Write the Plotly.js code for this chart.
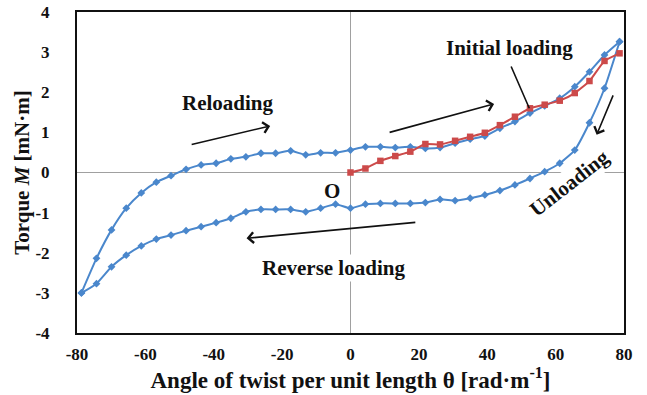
<!DOCTYPE html>
<html>
<head>
<meta charset="utf-8">
<script src="https://cdn.plot.ly/plotly-3.0.1.min.js"></script>
<style>html,body{margin:0;padding:0;background:#fff}#chart{width:647px;height:395px}</style>
</head>
<body>
<div id="chart"></div>
<script>
// Initial loading (red)
const thetaInitial = [0, 4.37, 8.74, 13.1, 17.5, 21.9, 26.2, 30.6, 35.0, 39.3, 43.7, 48.1, 52.5, 56.8, 61.2, 65.6, 69.9, 74.3, 78.7];
const torqueInitial = [0, 0.10, 0.29, 0.41, 0.52, 0.71, 0.70, 0.79, 0.89, 0.99, 1.18, 1.39, 1.60, 1.69, 1.79, 1.98, 2.28, 2.78, 2.97];

// Unloading + reverse loading (blue, lower branch) from +78.7 to -78.7
const thetaLower = [78.7, 74.3, 69.9, 65.6, 61.2, 56.8, 52.5, 48.1, 43.7, 39.3, 35.0, 30.6, 26.2, 21.9, 17.5, 13.1, 8.74, 4.37, 0,
  -4.37, -8.74, -13.1, -17.5, -21.9, -26.2, -30.6, -35.0, -39.3, -43.7, -48.1, -52.5, -56.8, -61.2, -65.6, -69.9, -74.3, -78.7];
const torqueLower = [3.26, 2.10, 1.24, 0.56, 0.23, 0.02, -0.15, -0.31, -0.45, -0.56, -0.64, -0.70, -0.67, -0.75, -0.77, -0.77, -0.77, -0.79, -0.89,
  -0.79, -0.89, -0.98, -0.92, -0.92, -0.92, -0.98, -1.14, -1.25, -1.35, -1.45, -1.56, -1.66, -1.83, -2.06, -2.35, -2.77, -3.0];

// Reloading (blue, upper branch) from -78.7 to +78.7
const thetaUpper = [-78.7, -74.3, -69.9, -65.6, -61.2, -56.8, -52.5, -48.1, -43.7, -39.3, -35.0, -30.6, -26.2, -21.9, -17.5, -13.1, -8.74, -4.37, 0,
  4.37, 8.74, 13.1, 17.5, 21.9, 26.2, 30.6, 35.0, 39.3, 43.7, 48.1, 52.5, 56.8, 61.2, 65.6, 69.9, 74.3, 78.7];
const torqueUpper = [-3.0, -2.14, -1.43, -0.89, -0.51, -0.24, -0.08, 0.08, 0.19, 0.23, 0.34, 0.39, 0.48, 0.48, 0.54, 0.44, 0.49, 0.49, 0.56,
  0.64, 0.64, 0.62, 0.64, 0.60, 0.62, 0.73, 0.83, 0.91, 1.10, 1.27, 1.48, 1.66, 1.85, 2.14, 2.51, 2.93, 3.26];

const xTicks = [-80, -60, -40, -20, 0, 20, 40, 60, 80];
const yTicks = [-4, -3, -2, -1, 0, 1, 2, 3, 4];

const BLUE = '#4a87cc';
const RED = '#cc4a4a';
const SERIF = 'Liberation Serif, Times New Roman, serif';

const blueStyle = {
  mode: 'lines+markers',
  line: {color: BLUE, width: 2, shape: 'spline', smoothing: 0.5},
  marker: {symbol: 'diamond', size: 6, color: BLUE},
  showlegend: false, hoverinfo: 'skip'
};

const traces = [
  Object.assign({x: thetaLower, y: torqueLower, type: 'scatter'}, blueStyle),
  Object.assign({x: thetaUpper, y: torqueUpper, type: 'scatter'}, blueStyle),
  {x: thetaInitial, y: torqueInitial, type: 'scatter', mode: 'lines+markers',
   line: {color: RED, width: 2, shape: 'spline', smoothing: 0.5},
   marker: {symbol: 'square', size: 6.5, color: RED},
   showlegend: false, hoverinfo: 'skip'}
];

const txtFont = {family: SERIF, size: 21, color: '#111', weight: 'bold'};
function arrow(tx, ty, hx, hy, head) {
  return {x: hx, y: hy, ax: tx, ay: ty, xref: 'x', yref: 'y', axref: 'x', ayref: 'y',
    text: '', showarrow: true, arrowhead: head, arrowsize: 1.3, arrowwidth: 1.6, arrowcolor: '#111'};
}
function label(x, y, text, extra) {
  return Object.assign({x: x, y: y, xref: 'x', yref: 'y', text: text, showarrow: false, font: txtFont}, extra || {});
}

const annotations = [
  label(-35.8, 1.73, 'Reloading'),
  label(46.6, 3.10, 'Initial loading'),
  label(64.0, -0.25, 'Unloading', {textangle: -38, bgcolor: '#fff'}),
  label(-5.1, -2.38, 'Reverse loading', {bgcolor: '#fff'}),
  label(-5.5, -0.45, 'O'),
  arrow(-46.9, 0.69, -23.5, 1.16, 4),
  arrow(11.0, 0.99, 42.0, 1.71, 4),
  arrow(46.8, 2.68, 52.3, 1.60, 0),
  arrow(77.0, 1.96, 72.0, 0.94, 4),
  arrow(19.4, -1.24, -30.4, -1.64, 4)
];

const layout = {
  width: 647, height: 395,
  margin: {l: 77, r: 23, t: 12, b: 62},
  paper_bgcolor: '#fff', plot_bgcolor: '#fff',
  font: {family: SERIF, color: '#111'},
  xaxis: {
    range: [-80, 80], tickvals: xTicks, ticktext: xTicks.map(String),
    showgrid: false, zeroline: true, zerolinecolor: '#a0a0a0', zerolinewidth: 1.5,
    showline: true, mirror: true, linecolor: '#111', linewidth: 2,
    ticks: '', ticklabelstandoff: 5,
    tickfont: {family: SERIF, size: 17, weight: 'bold', color: '#111'},
    title: {text: 'Angle of twist per unit length θ [rad·m<sup>-1</sup>]', font: {family: SERIF, size: 23, weight: 'bold', color: '#111'}, standoff: 5}
  },
  yaxis: {
    range: [-4, 4], tickvals: yTicks, ticktext: yTicks.map(String),
    showgrid: false, zeroline: true, zerolinecolor: '#a0a0a0', zerolinewidth: 1.5,
    showline: true, mirror: true, linecolor: '#111', linewidth: 2,
    ticks: '', ticklabelstandoff: 22,
    tickfont: {family: SERIF, size: 17, weight: 'bold', color: '#111'},
    title: {text: 'Torque <i>M</i> [mN·m]', font: {family: SERIF, size: 21, weight: 'bold', color: '#111'}, standoff: 0}
  },
  annotations: annotations
};

Plotly.newPlot('chart', traces, layout, {displayModeBar: false, staticPlot: true});
</script>
</body>
</html>
